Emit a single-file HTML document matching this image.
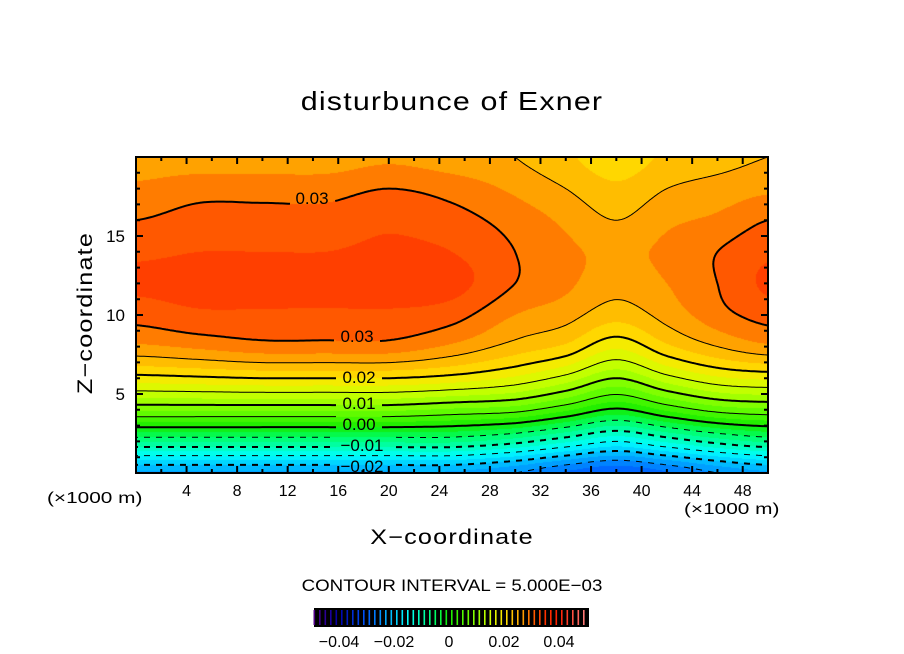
<!DOCTYPE html>
<html><head><meta charset="utf-8">
<style>
html,body{margin:0;padding:0;background:#fff;}
#root{position:relative;width:904px;height:654px;overflow:hidden;font-family:"Liberation Sans",sans-serif;}
.t{position:absolute;white-space:nowrap;color:#000;}
canvas{position:absolute;}
svg{position:absolute;left:0;top:0;}
</style></head><body>
<div id="root">
<div class="t" style="left:452px;top:86px;font-size:26px;letter-spacing:1px;transform:translateX(-50%) scaleX(1.17);">disturbunce of Exner</div>
<canvas id="cv" width="632" height="316" style="left:136px;top:157px;"></canvas>
<svg id="sv" width="904" height="654"></svg>
<div class="t" style="left:86px;top:313px;font-size:21px;letter-spacing:1px;transform:translate(-50%,-50%) rotate(-90deg) scaleX(1.2);">Z−coordinate</div>
<div class="t" style="left:452px;top:526px;font-size:21px;letter-spacing:1px;transform:translateX(-50%) scaleX(1.2);">X−coordinate</div>
<div class="t" style="left:47px;top:490px;font-size:16px;transform-origin:0 0;transform:scaleX(1.3);">(×1000 m)</div>
<div class="t" style="left:684px;top:501px;font-size:16px;transform-origin:0 0;transform:scaleX(1.3);">(×1000 m)</div>
<div class="t" style="left:452px;top:576px;font-size:17px;transform:translateX(-50%) scaleX(1.1);">CONTOUR INTERVAL = 5.000E−03</div>
</div>
<script>
// ---- data ----
const xGrid = [0,5,10,15,20,25,30,34,38,42,46,50];
const zGrid = [0,2,4,6,8,10,12,14,16,18,20];
// values[column x][row z]
const col0  = [-0.023,-0.007,0.008,0.019,0.027,0.031,0.033,0.032,0.030,0.028,0.026];
const col5  = [-0.023,-0.007,0.008,0.0195,0.028,0.032,0.0335,0.0325,0.031,0.029,0.026];
const col10 = [-0.023,-0.007,0.008,0.020,0.029,0.032,0.034,0.0325,0.031,0.029,0.026];
const col15 = [-0.023,-0.007,0.008,0.020,0.029,0.032,0.0335,0.0325,0.031,0.029,0.026];
const col20 = [-0.023,-0.007,0.008,0.020,0.029,0.032,0.034,0.033,0.032,0.030,0.027];
const col25 = [-0.023,-0.007,0.007,0.019,0.027,0.031,0.0335,0.0325,0.031,0.029,0.026];
const col30 = [-0.025,-0.009,0.006,0.017,0.024,0.0275,0.030,0.030,0.029,0.027,0.025];
const col34 = [-0.028,-0.012,0.003,0.014,0.022,0.026,0.028,0.028,0.027,0.025,0.023];
const col38 = [-0.030,-0.015,-0.0005,0.010,0.018,0.0235,0.026,0.027,0.025,0.023,0.021];
const col42 = [-0.028,-0.012,0.003,0.014,0.022,0.026,0.0275,0.028,0.027,0.025,0.023];
const col46 = [-0.025,-0.009,0.006,0.017,0.025,0.029,0.030,0.030,0.028,0.026,0.024];
const col50 = [-0.023,-0.007,0.007,0.018,0.027,0.031,0.033,0.032,0.030,0.027,0.025];
const columns = [col0,col5,col10,col15,col20,col25,col30,col34,col38,col42,col46,col50];
const levels = [-0.025,-0.02,-0.015,-0.01,-0.005,0,0.005,0.01,0.015,0.02,0.025,0.03];
const xTicks = [4,8,12,16,20,24,28,32,36,40,44,48];
const zTicks = [5,10,15];
const cbTicks = [-0.04,-0.02,0,0.02,0.04];
const cbTickText = ["−0.04","−0.02","0","0.02","0.04"];

// ---- axes ----
const PL=136,PR=768,PT=157,PB=473, XMAX=50, ZMAX=20;
const sx = x => PL + x*(PR-PL)/XMAX;
const sz = z => PB - z*(PB-PT)/ZMAX;
function fracIndex(g,v){let i=0;while(i<g.length-2&&v>g[i+1])i++;return i+Math.min(1,Math.max(0,(v-g[i])/(g[i+1]-g[i])));}
function cr(p0,p1,p2,p3,t){return 0.5*((2*p1)+(-p0+p2)*t+(2*p0-5*p1+4*p2-p3)*t*t+(-p0+3*p1-3*p2+p3)*t*t*t);}
function interp1(arr,fi){const n=arr.length;let i=Math.min(n-2,Math.floor(fi));const t=fi-i;
  const g=k=>arr[Math.max(0,Math.min(n-1,k))];return cr(g(i-1),g(i),g(i+1),g(i+2),t);}
function field(x,z){
  const fx=fracIndex(xGrid,x), fz=fracIndex(zGrid,z);
  const row=columns.map(c=>interp1(c,fz));
  return interp1(row,fx);
}
const stops=[[-0.05,[90,0,130]],[-0.04,[0,0,170]],[-0.03,[0,90,255]],[-0.02,[0,200,255]],[-0.015,[0,255,255]],
 [-0.01,[0,255,180]],[-0.005,[0,255,100]],[0,[20,235,0]],[0.005,[80,250,0]],[0.01,[145,255,0]],[0.015,[210,255,0]],
 [0.02,[255,228,0]],[0.025,[255,176,0]],[0.0275,[255,148,0]],[0.03,[255,100,0]],[0.0325,[255,75,0]],[0.035,[255,50,0]],[0.04,[255,30,0]],[0.05,[255,130,130]]];
function cmap(v){
  if(v<=stops[0][0]) return stops[0][1];
  for(let k=0;k<stops.length-1;k++){ if(v<=stops[k+1][0]){const t=(v-stops[k][0])/(stops[k+1][0]-stops[k][0]);
    return stops[k][1].map((c,n)=>Math.round(c+(stops[k+1][1][n]-c)*t));}}
  return stops[stops.length-1][1];
}
// fill
const cv=document.getElementById('cv'),ctx=cv.getContext('2d');
const img=ctx.createImageData(632,316);
for(let py=0;py<316;py++)for(let px=0;px<632;px++){
  const x=(px+0.5)/632*XMAX, z=(316-py-0.5)/316*ZMAX;
  let v=field(x,z); v=(Math.floor(v/0.0025)+0.5)*0.0025;
  const c=cmap(v),o=(py*632+px)*4; img.data[o]=c[0];img.data[o+1]=c[1];img.data[o+2]=c[2];img.data[o+3]=255;
}
ctx.putImageData(img,0,0);

const NS='http://www.w3.org/2000/svg', sv=document.getElementById('sv');
function mk(tag,attrs,parent){const e=document.createElementNS(NS,tag);for(const k in attrs)e.setAttribute(k,attrs[k]);(parent||sv).appendChild(e);return e;}

// labels (presentation positions)
const labels=[["0.03",312,198],["0.03",357,336],["0.02",359,377],["0.01",359,403],["0.00",359,424],["−0.01",362,445],["−0.02",362,466]];
function inLabel(x,y){for(const l of labels){const w=l[0].length*10+6;if(Math.abs(x-l[1])<w/2&&Math.abs(y-l[2])<8)return true;}return false;}

// contours by marching squares
const STEP=2, nx=Math.ceil((PR-PL)/STEP), nz=Math.ceil((PB-PT)/STEP);
const G=[];
for(let i=0;i<=nx;i++){G[i]=[];for(let j=0;j<=nz;j++){const px=Math.min(PR,PL+i*STEP),py=Math.min(PB,PT+j*STEP);
  G[i][j]=field((px-PL)/(PR-PL)*XMAX,(PB-py)/(PB-PT)*ZMAX);}}
const gp=(i,j)=>[Math.min(PR,PL+i*STEP),Math.min(PB,PT+j*STEP)];
levels.forEach(L=>{
  let d='';
  const major=Math.abs(Math.round(L*100)-L*100)<1e-6;
  for(let i=0;i<nx;i++)for(let j=0;j<nz;j++){
    const c=[[i,j],[i+1,j],[i+1,j+1],[i,j+1]];
    const pts=[];
    for(let k=0;k<4;k++){const a=c[k],b=c[(k+1)%4];const va=G[a[0]][a[1]]-L,vb=G[b[0]][b[1]]-L;
      if((va<0)!==(vb<0)){const t=va/(va-vb);const pa=gp(a[0],a[1]),pb=gp(b[0],b[1]);pts.push([pa[0]+(pb[0]-pa[0])*t,pa[1]+(pb[1]-pa[1])*t]);}}
    for(let k=0;k+1<pts.length;k+=2){
      const mx=(pts[k][0]+pts[k+1][0])/2,my=(pts[k][1]+pts[k+1][1])/2;
      if(inLabel(mx,my))continue;
      if(L<-1e-9 && Math.floor(mx/6)%2===1)continue;
      d+=`M${pts[k][0].toFixed(1)},${pts[k][1].toFixed(1)}L${pts[k+1][0].toFixed(1)},${pts[k+1][1].toFixed(1)}`;
    }
  }
  const p=mk('path',{d:d,stroke:'#000','stroke-width':major?2:1,fill:'none'});
  
  
});
labels.forEach(l=>{const t=mk('text',{x:l[1],y:l[2]+6,'text-anchor':'middle','font-size':17,'font-family':'Liberation Sans, sans-serif'});t.textContent=l[0];
  
  });

// frame
const fr=mk('rect',{x:PL,y:PT,width:PR-PL,height:PB-PT,fill:'none',stroke:'#000','stroke-width':2});


// ticks
let td='';
for(let x=2;x<50;x+=2){const len=(x%4===0)?7:4;const X=sx(x);td+=`M${X},${PB}v${-len}M${X},${PT}v${len}`;}
for(let z=1;z<20;z++){const len=(z%5===0)?7:4;const Y=sz(z);td+=`M${PL},${Y}h${len}M${PR},${Y}h${-len}`;}
const tk=mk('path',{d:td,stroke:'#000','stroke-width':2,fill:'none'});


xTicks.forEach(x=>{const t=mk('text',{x:sx(x),y:PB+23,'text-anchor':'middle','font-size':16,'font-family':'Liberation Sans, sans-serif'});t.textContent=x;
  
  });
zTicks.forEach(z=>{const t=mk('text',{x:PL-11,y:sz(z)+6,'text-anchor':'end','font-size':17,'font-family':'Liberation Sans, sans-serif'});t.textContent=z;
  
  });

// colorbar
const CB0=311.5,CB1=586.5, cbx=v=>CB0+(v+0.05)/0.1*(CB1-CB0);
const cb=mk('rect',{x:314,y:608,width:275,height:19,fill:'#000'});


for(let v=-0.049;v<0.05;v+=0.002){const c=cmap(v);
  const ln=mk('rect',{x:cbx(v)-0.75,y:610,width:1.6,height:15,fill:`rgb(${c[0]},${c[1]},${c[2]})`});
  
  }
cbTicks.forEach((v,k)=>{const t=mk('text',{x:cbx(v),y:647,'text-anchor':'middle','font-size':16,'font-family':'Liberation Sans, sans-serif'});t.textContent=cbTickText[k];
  
  });
</script>
</body></html>
